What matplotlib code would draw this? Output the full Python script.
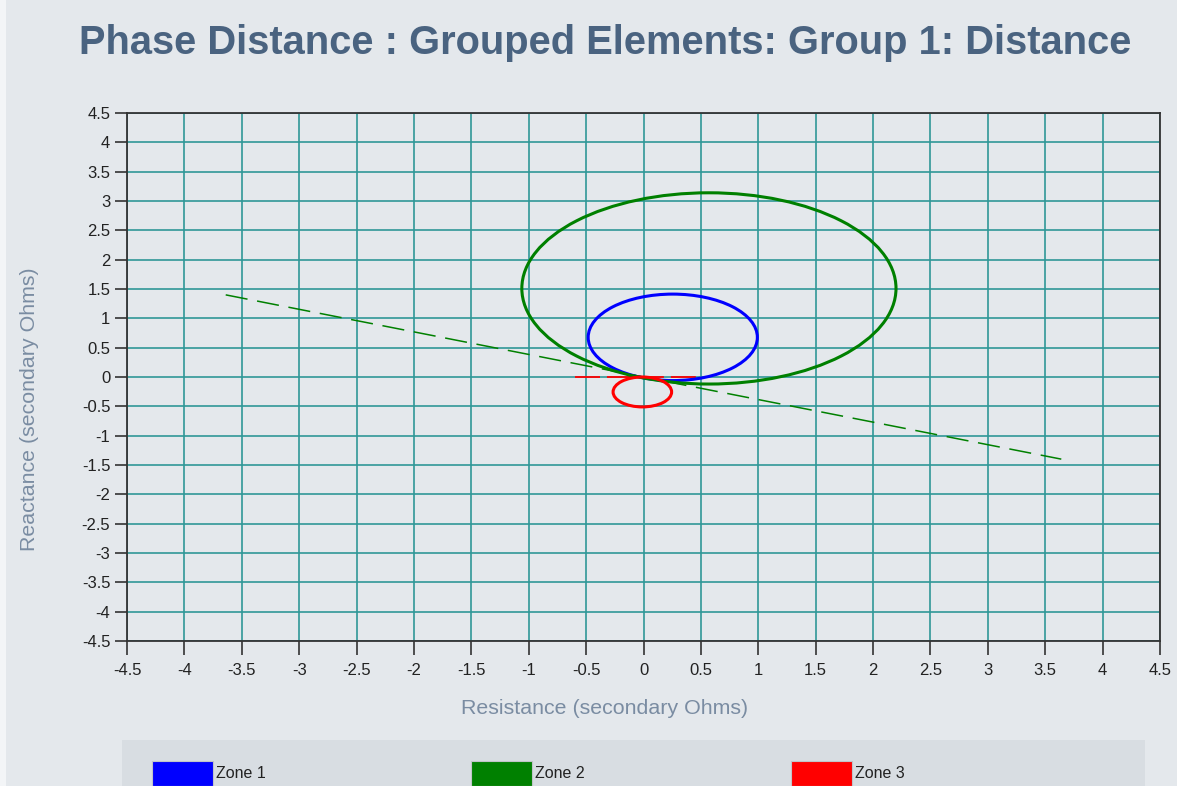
import matplotlib
matplotlib.use("Agg")
import matplotlib.pyplot as plt
from matplotlib.patches import Circle, Rectangle

# Mho zone characteristics (secondary ohms): centre R, centre X, radius
zone_names = ["Zone 1", "Zone 2", "Zone 3"]
zone_colors = ["#0000ff", "#008000", "#ff0000"]
zone_center_r = [0.255, 0.57, -0.01]
zone_center_x = [0.676, 1.51, -0.255]
zone_radius = [0.737, 1.63, 0.255]

# Directional / load-blinder line and zone 3 reference line
char_line_r = [-3.64, 3.64]
char_line_x = [1.40, -1.40]
z3_line_r = [-0.6, 0.5]
z3_line_x = [0.0, 0.0]

ticks = [-4.5, -4, -3.5, -3, -2.5, -2, -1.5, -1, -0.5, 0, 0.5, 1, 1.5, 2, 2.5, 3, 3.5, 4, 4.5]
tick_labels = ["-4.5", "-4", "-3.5", "-3", "-2.5", "-2", "-1.5", "-1", "-0.5", "0",
               "0.5", "1", "1.5", "2", "2.5", "3", "3.5", "4", "4.5"]

plt.rcParams["font.family"] = ["Liberation Sans", "DejaVu Sans"]
plt.rcParams["lines.scale_dashes"] = False

BG = "#e4e8ec"
W, H = 1177, 786
fig = plt.figure(figsize=(W / 100, H / 100), dpi=100, facecolor=BG)

# light strip on the left edge
fig.patches.append(Rectangle((0, 0), 6 / W, 1, transform=fig.transFigure,
                             facecolor="#f3f5f7", edgecolor="none", zorder=0))

ax = fig.add_axes([127 / W, 1 - 641 / H, (1160 - 127) / W, (641 - 113) / H])
ax.set_facecolor(BG)
ax.set_xlim(-4.5, 4.5)
ax.set_ylim(-4.5, 4.5)
ax.set_xticks(ticks)
ax.set_xticklabels(tick_labels)
ax.set_yticks(ticks)
ax.set_yticklabels(tick_labels)
ax.grid(True, color="#2f9797", linewidth=1.2)
ax.set_axisbelow(True)
for s in ax.spines.values():
    s.set_color("#333333")
    s.set_linewidth(1.3)
ax.tick_params(axis="x", direction="out", length=10, width=1.1, color="#222222",
               labelsize=12, labelcolor="#222222", pad=6)
ax.tick_params(axis="y", direction="out", length=9, width=1.1, color="#222222",
               labelsize=12, labelcolor="#222222", pad=3)

# characteristic line
ax.plot(char_line_r, char_line_x, color="#008000", linewidth=1.1,
        dashes=(16, 7), zorder=3)
ax.plot(z3_line_r, z3_line_x, color="#ff0000", linewidth=1.3,
        dashes=(18, 5), zorder=3)

# zone circles
for cr, cx, rad, col in zip(zone_center_r, zone_center_x, zone_radius, zone_colors):
    ax.add_patch(Circle((cr, cx), rad, fill=False, edgecolor=col,
                        linewidth=2.2, zorder=4))

fig.text(605 / W, 1 - 54 / H, "Phase Distance : Grouped Elements: Group 1: Distance",
         ha="center", va="baseline", fontsize=28.7, fontweight="bold", color="#4a6380")
fig.text(605 / W, 1 - 709 / H, "Resistance (secondary Ohms)",
         ha="center", va="center", fontsize=15.4, color="#7a8ca2")
fig.text(30 / W, 1 - 409 / H, "Reactance (secondary Ohms)",
         ha="center", va="center", fontsize=15.4, color="#7a8ca2", rotation=90)

# legend panel
fig.patches.append(Rectangle((122 / W, 0), (1145 - 122) / W, (H - 740) / H,
                             transform=fig.transFigure, facecolor="#d8dde2",
                             edgecolor="none", zorder=1))
leg_x = [152, 471, 791]
for x0, name, col in zip(leg_x, zone_names, zone_colors):
    fig.patches.append(Rectangle((x0 / W, 0), 61 / W, (H - 761) / H,
                                 transform=fig.transFigure, facecolor=col,
                                 edgecolor="#c0c4c8", linewidth=0.8, zorder=2))
    fig.text((x0 + 64) / W, 1 - 774 / H, name, ha="left", va="center",
             fontsize=11.5, color="#222222", stretch="condensed", zorder=3)

fig.savefig("out.png", dpi=100, facecolor=BG)
